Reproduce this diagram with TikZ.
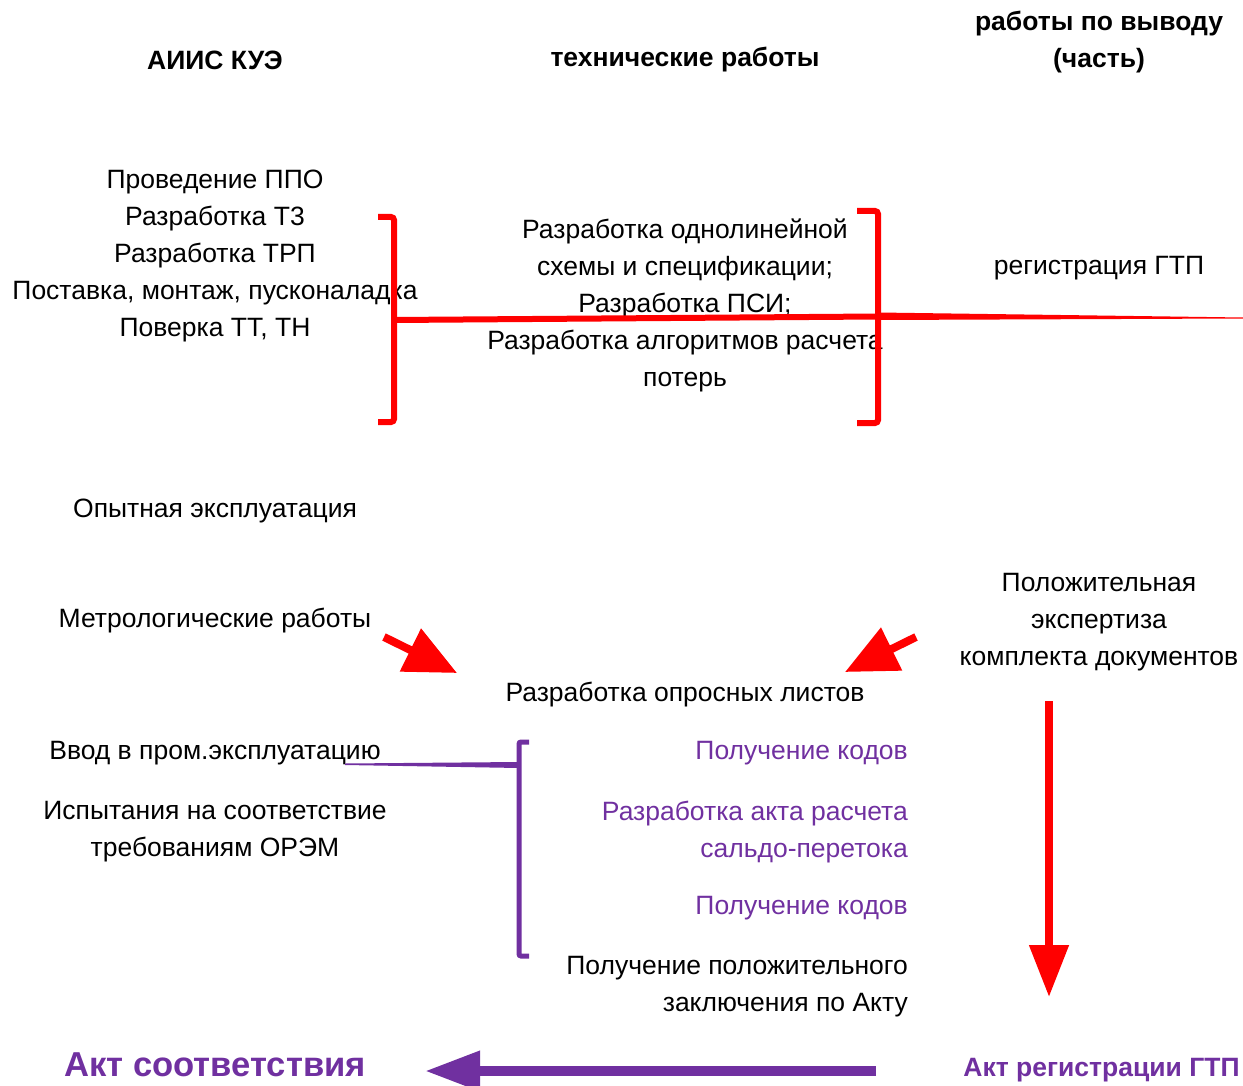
\documentclass[tikz,border=0pt]{standalone}
\usepackage{fontspec}
\setmainfont{Liberation Sans}
\usetikzlibrary{arrows.meta}
\definecolor{redc}{HTML}{FF0000}
\definecolor{purp}{HTML}{7030A0}
\begin{document}
\begin{tikzpicture}[x=1pt,y=-1pt,
  txt/.style={font=\fontsize{26.5}{37}\selectfont, align=center, inner sep=0pt, anchor=center},
  ptxt/.style={font=\fontsize{26.5}{37}\selectfont, align=right, inner sep=0pt, text=purp},
  head/.style={font=\fontsize{26.5}{37}\selectfont\bfseries, align=center, inner sep=0pt},
  redarrow/.style={draw=redc, line width=8pt, -{Triangle[width=46pt,length=52pt]}},
]
\useasboundingbox (0,0) rectangle (1243,1086);
% headers
\node[head] (h1) at (215,60) {АИИС КУЭ};
\node[head] (h2) at (685,60) {технические работы};
\node[head] (h3) at (1099,42) {работы по выводу\\(часть)};
% left list
\node[txt] (l1) at (215,256) {Проведение ППО\\Разработка Т3\\Разработка ТРП\\Поставка, монтаж, пусконаладка\\Поверка ТТ, ТН};
% middle
\node[txt] (m1) at (685,305) {Разработка однолинейной\\схемы и спецификации;\\Разработка ПСИ;\\Разработка алгоритмов расчета\\потерь};
\node[txt] (r1) at (1099,268) {регистрация ГТП};
% red brackets
\draw[redc, line width=6pt, rounded corners=3pt] (378,217) -- (394,217) -- (394,422) -- (378,422);
\draw[redc, line width=6pt, rounded corners=3pt] (857,211) -- (878,211) -- (878,423) -- (857,423);
\coordinate (b1) at (394,320);
\coordinate (b2) at (878,316);
\coordinate (rend) at (1243,318);
\fill[redc] (394,317) -- (878,313.5) -- (878,319.5) -- (394,323) -- cycle;
\fill[redc] (878,312.5) -- (1243,317.5) -- (1243,318.5) -- (878,320) -- cycle;
% mid-left
\node[txt] (l2) at (215,511) {Опытная эксплуатация};
\node[txt] (l3) at (215,621) {Метрологические работы};
\node[txt] (r2) at (1099,622) {Положительная\\экспертиза\\комплекта документов};
\node[txt] (m2) at (685,695) {Разработка опросных листов};
\coordinate (a1s) at (384,637);
\coordinate (a1e) at (457,673);
\coordinate (a2s) at (916,637);
\coordinate (a2e) at (845,672);
\draw[redarrow] (a1s) -- (a1e);
\draw[redarrow] (a2s) -- (a2e);
% down arrow
\coordinate (d1) at (1049,701);
\coordinate (d2) at (1049,997);
\draw[draw=redc, line width=8pt, -{Triangle[width=38pt,length=52pt]}] (d1) -- (d2);
% lower left
\node[txt] (l4) at (215,753) {Ввод в пром.эксплуатацию};
\node[txt] (l5) at (215,832) {Испытания на соответствие\\требованиям ОРЭМ};
% purple bracket
\draw[purp, line width=5pt, rounded corners=2pt] (529,742) -- (519,742) -- (519,956) -- (529,956);
\coordinate (pstart) at (345,764);
\fill[purp] (345,763.5) -- (519,762) -- (519,768) -- (345,765) -- cycle;
% purple texts
\node[ptxt, anchor=east] (p1) at (908,753) {Получение кодов};
\node[ptxt, anchor=east] (p2) at (908,832) {Разработка акта расчета\\сальдо-перетока};
\node[ptxt, anchor=east] (p3) at (908,908) {Получение кодов};
\node[txt, align=right, anchor=east] (p4) at (908,987) {Получение положительного\\заключения по Акту};
% bottom
\node[inner sep=0pt, text=purp, font=\fontsize{34.6}{40}\selectfont\bfseries, anchor=base] (act1) at (215,1076) {Акт соответствия};
\node[inner sep=0pt, text=purp, font=\fontsize{26.5}{32}\selectfont\bfseries, anchor=base] (act2) at (1101.5,1076) {Акт регистрации ГТП};
\coordinate (ps) at (876,1071);
\coordinate (pe) at (425,1071);
\draw[draw=purp, line width=10pt, -{Triangle[width=38pt,length=55pt]}] (ps) -- (pe);
\end{tikzpicture}
\end{document}
